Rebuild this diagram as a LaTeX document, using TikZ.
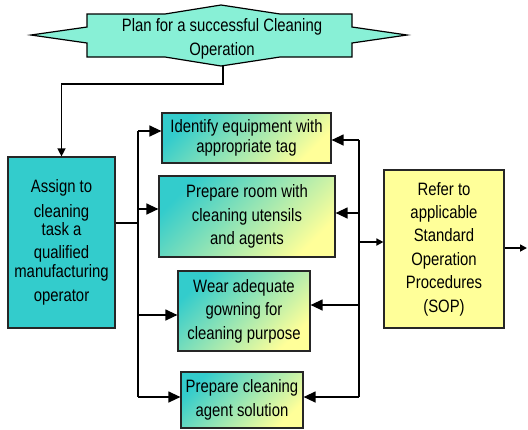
\documentclass[tikz,border=0pt]{standalone}
\usepackage{fontspec}
\setmainfont{Liberation Sans}[FakeStretch=0.83]
\usetikzlibrary{arrows.meta}
\definecolor{mint}{RGB}{136,240,214}
\definecolor{tealbox}{RGB}{51,204,204}
\definecolor{paleyellow}{RGB}{255,255,153}
\begin{document}
\begin{tikzpicture}[x=1bp,y=-1bp,
  box/.style={draw=black!85, line width=1.2bp, inner sep=0pt, align=center,
    font=\fontsize{18}{23.5}\selectfont},
  grad/.style={box, top color=tealbox, bottom color=paleyellow, shading angle=45},
  link/.style={line width=1.3bp},
  big/.style={link, -{Triangle[length=12bp,width=11bp]}},
  small/.style={line width=1.6bp, -{Triangle[length=7bp,width=7bp]}}]
\useasboundingbox (0,0) rectangle (528,429);
% title banner
\draw[fill=mint, line width=1.2bp] (31,35) -- (87,27) -- (87,14) -- (165,14) -- (221,5)
  -- (280,14) -- (352,14) -- (352,27) -- (407,35) -- (352,43) -- (352,57) -- (280,57)
  -- (221,66) -- (165,57) -- (87,57) -- (87,43) -- cycle;
\node[box, draw=none] (p) at (222,39) {Plan for a successful Cleaning\\Operation};
\coordinate (pb) at (223,66);
% boxes
\node[box, fill=tealbox, minimum width=107bp, minimum height=171bp] (a) at (61.5,242.5)
  {Assign to\\[1pt]cleaning\\[-5pt]task a\\[0pt]qualified\\[-5pt]manufacturing\\[1pt]operator};
\node[grad, minimum width=169bp, minimum height=50bp] (e) at (246.5,138)
  {Identify equipment with\\[-4pt]appropriate tag};
\node[grad, minimum width=176bp, minimum height=81bp] (r) at (247,216.5)
  {Prepare room with\\cleaning utensils\\and agents};
\node[grad, minimum width=132bp, minimum height=80bp] (g) at (244,311)
  {Wear adequate\\gowning for\\cleaning purpose};
\node[grad, minimum width=122bp, minimum height=56bp] (s) at (242,400)
  {Prepare cleaning\\agent solution};
\node[box, fill=paleyellow, minimum width=120bp, minimum height=158bp] (o) at (444,249)
  {Refer to\\applicable\\Standard\\Operation\\Procedures\\(SOP)};
% connectors
\draw[link, -{Triangle[length=8bp,width=8bp]}] (pb) -- (223,84) -| (a.north);
\coordinate (la) at (138,223);
\draw[link] (a.east |- la) -- (la);
\draw[link] (138,131) -- (138,397);
\draw[link] (359,140) -- (359,397);
\foreach \n/\y in {e/131, r/209, g/315, s/397} {
  \coordinate (l\n) at (138,\y);
  \draw[big] (l\n) -- (l\n -| \n.west);
}
\foreach \n/\y in {e/140, r/213, g/305, s/397} {
  \coordinate (r\n) at (359,\y);
  \draw[big] (r\n) -- (r\n -| \n.east);
}
\coordinate (ro) at (359,242);
\draw[small] (ro) -- (ro -| o.west);
\coordinate (out) at (527,248);
\draw[small] (o.east |- out) -- (out);
\end{tikzpicture}
\end{document}
